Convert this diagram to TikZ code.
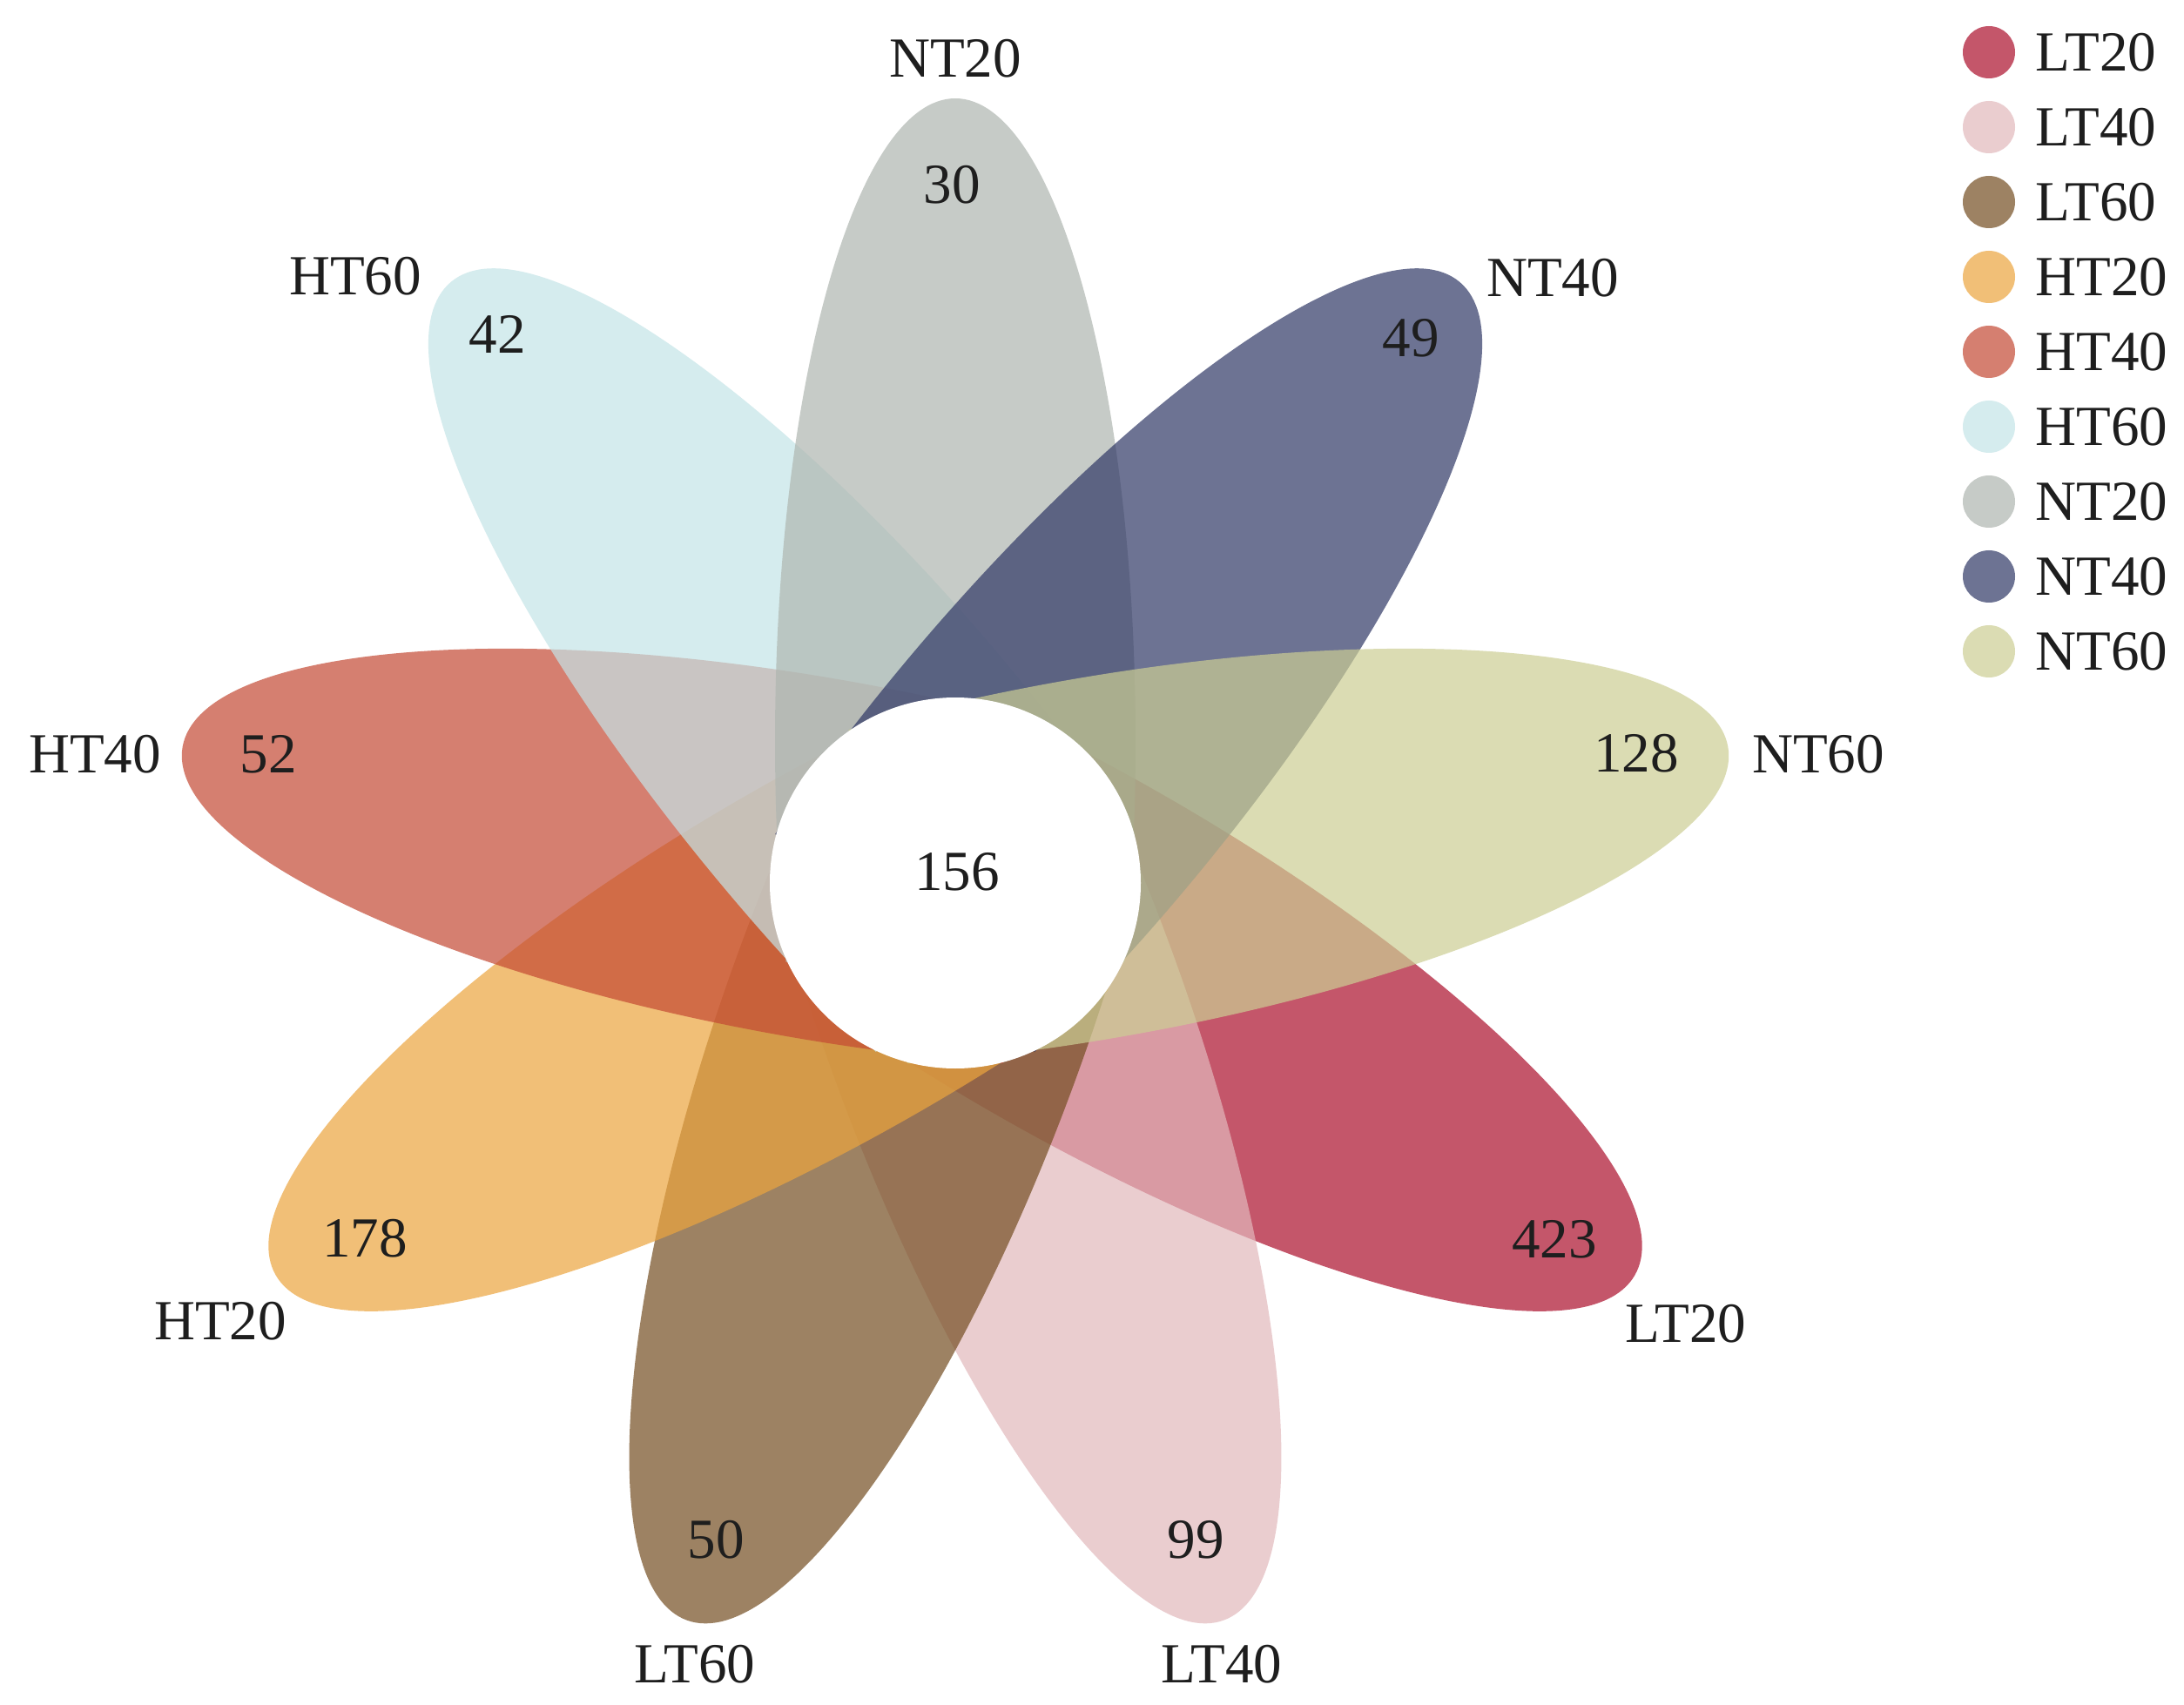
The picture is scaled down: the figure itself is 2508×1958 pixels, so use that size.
\documentclass[tikz,border=0pt]{standalone}
\usepackage{fontspec}
\setmainfont{Liberation Serif}
\definecolor{cLTa}{RGB}{172,15,44}
\definecolor{cLTb}{RGB}{226,184,188}
\definecolor{cLTc}{RGB}{116,78,34}
\definecolor{cHTa}{RGB}{236,165,62}
\definecolor{cHTb}{RGB}{196,74,52}
\definecolor{cHTc}{RGB}{196,228,231}
\definecolor{cNTa}{RGB}{175,182,176}
\definecolor{cNTb}{RGB}{48,56,102}
\definecolor{cNTc}{RGB}{204,206,148}
\definecolor{txt}{RGB}{30,30,30}
\begin{document}
\begin{tikzpicture}[x=0.01cm, y=-0.01cm,
  lab/.style={inner sep=0pt, text=txt, font=\fontsize{18.5pt}{22pt}\selectfont},
  legtext/.style={lab, anchor=west},
  petal/.style={fill opacity=0.7}]
\fill[white] (0,0) rectangle (2508,1958);
\useasboundingbox (0,0) rectangle (2508,1958);
% petals
\foreach \ang/\col in {-30/cLTa, -70/cLTb, -110/cLTc, -150/cHTa, 170/cHTb, 130/cHTc, 90/cNTa, 50/cNTb, 10/cNTc}{
  \begin{scope}[shift={(1097,1014)}, rotate=\ang]
    \clip (-90,-260) rectangle (950,260);
    \fill[petal, \col] (163,0) ellipse [x radius=738, y radius=207];
  \end{scope}
}
% core
\fill[white] (1097,1014) circle [radius=213];
\node[lab] (core) at (1099,1001) {156};
% petal counts
\node[lab] (vNT20) at (1093,212) {30};
\node[lab] (vNT40) at (1620,388) {49};
\node[lab] (vNT60) at (1879,865) {128};
\node[lab] (vLT20) at (1785,1423) {423};
\node[lab] (vLT40) at (1373,1768) {99};
\node[lab] (vLT60) at (822,1768) {50};
\node[lab] (vHT20) at (419,1422) {178};
\node[lab] (vHT40) at (308,866) {52};
\node[lab] (vHT60) at (571,384) {42};
% petal names
\node[lab] (nNT20) at (1097,67) {NT20};
\node[lab] (nNT40) at (1783,319) {NT40};
\node[lab] (nNT60) at (2088,866) {NT60};
\node[lab] (nLT20) at (1936,1520) {LT20};
\node[lab] (nLT40) at (1403,1911) {LT40};
\node[lab] (nLT60) at (798,1911) {LT60};
\node[lab] (nHT20) at (253,1517) {HT20};
\node[lab] (nHT40) at (109,866) {HT40};
\node[lab] (nHT60) at (408,317) {HT60};
% legend
\foreach \i/\col/\name in {0/cLTa/LT20, 1/cLTb/LT40, 2/cLTc/LT60, 3/cHTa/HT20, 4/cHTb/HT40, 5/cHTc/HT60, 6/cNTa/NT20, 7/cNTb/NT40, 8/cNTc/NT60}{
  \fill[petal, \col] (2284,{60+86*\i}) circle [radius=30];
  \node[legtext] (leg\name) at (2337,{60+86*\i}) {\name};
}
\end{tikzpicture}
\end{document}
